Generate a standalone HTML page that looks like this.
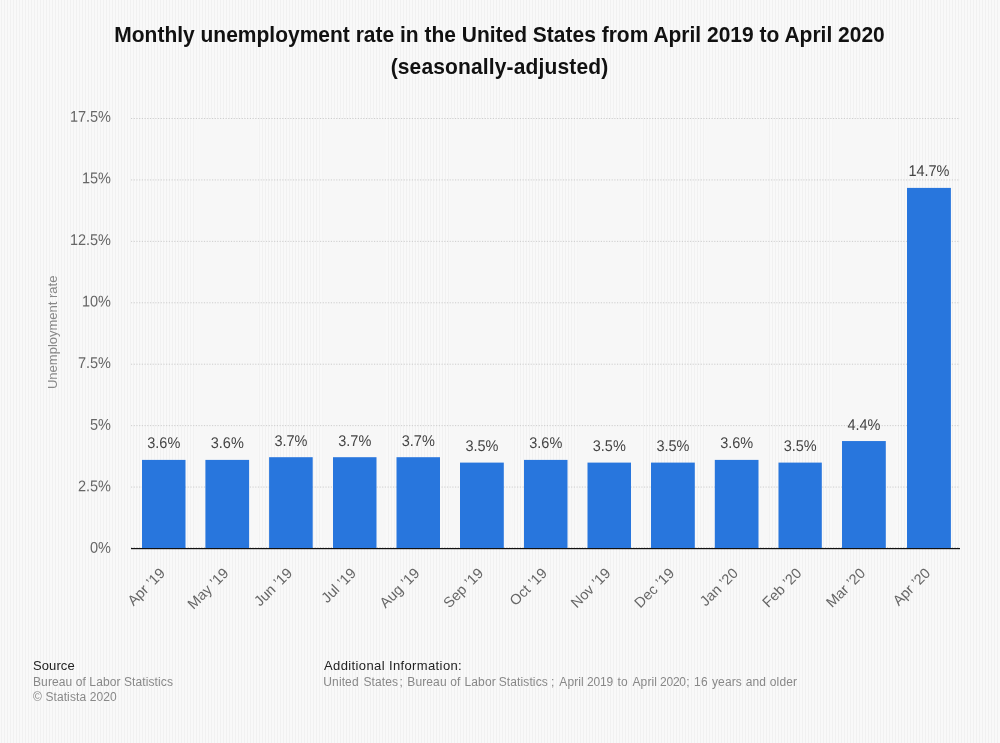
<!DOCTYPE html>
<html><head><meta charset="utf-8">
<style>
html,body{margin:0;padding:0;}
body{width:1000px;height:743px;overflow:hidden;position:relative;
background:#f6f6f6;
background-image:repeating-linear-gradient(90deg,#f9f9f9 0px,#f9f9f9 1px,#f1f1f1 1px,#f1f1f1 2px,#f9f9f9 2px,#f9f9f9 3px);
font-family:"Liberation Sans",sans-serif;}
.title{will-change:transform;position:absolute;left:0;top:18.5px;width:1000px;text-align:center;font-weight:bold;font-size:21px;line-height:32px;color:#111;}
svg{position:absolute;left:0;top:0;will-change:transform;}
.gl{stroke:#cdcdcd;stroke-width:1;stroke-dasharray:1.2,1.5;}
.tt{font-size:21px;font-weight:bold;fill:#111;}
.yl{font-size:14.5px;fill:#666;}
.dl{font-size:14.5px;fill:#444;}
.xl{font-size:14.5px;fill:#666;}
.yt{font-size:13px;fill:#888;}
.fh{font-size:13px;fill:#222;}
.ft{font-size:12px;fill:#888;}
.src{position:absolute;left:33px;top:657px;font-size:12px;line-height:15px;color:#888;letter-spacing:0.1px;}
.src b{font-weight:normal;color:#222;font-size:13px;letter-spacing:0.1px;}
.add{position:absolute;left:324px;top:657px;font-size:12px;line-height:15px;color:#888;letter-spacing:0.23px;}
.add b{font-weight:normal;color:#222;font-size:13px;letter-spacing:0.38px;}
</style></head><body>
<svg width="1000" height="743" font-family="Liberation Sans, sans-serif">
<text transform="translate(499.5,41.8) scale(1,1.07)" text-anchor="middle" class="tt">Monthly unemployment rate in the United States from April 2019 to April 2020</text>
<text transform="translate(499.5,74) scale(1,1.07)" text-anchor="middle" class="tt" style="letter-spacing:0.15px">(seasonally-adjusted)</text>
<text transform="translate(57.3,332.3) rotate(-90)" text-anchor="middle" class="yt">Unemployment rate</text>
<rect x="194.77" y="119" width="63.77" height="429" fill="#f7f7f7"/>
<rect x="322.31" y="119" width="63.77" height="429" fill="#f7f7f7"/>
<rect x="449.85" y="119" width="63.77" height="429" fill="#f7f7f7"/>
<rect x="577.38" y="119" width="63.77" height="429" fill="#f7f7f7"/>
<rect x="704.92" y="119" width="63.77" height="429" fill="#f7f7f7"/>
<rect x="832.46" y="119" width="63.77" height="429" fill="#f7f7f7"/>
<line x1="131.0" y1="487.07" x2="960.0" y2="487.07" class="gl"/>
<line x1="131.0" y1="425.64" x2="960.0" y2="425.64" class="gl"/>
<line x1="131.0" y1="364.21" x2="960.0" y2="364.21" class="gl"/>
<line x1="131.0" y1="302.79" x2="960.0" y2="302.79" class="gl"/>
<line x1="131.0" y1="241.36" x2="960.0" y2="241.36" class="gl"/>
<line x1="131.0" y1="179.93" x2="960.0" y2="179.93" class="gl"/>
<line x1="131.0" y1="118.50" x2="960.0" y2="118.50" class="gl"/>
<line x1="131.0" y1="547.5" x2="960.0" y2="547.5" class="gl"/>
<text transform="translate(111,552.79) scale(1,1.07) rotate(0.05)" text-anchor="end" class="yl">0%</text>
<text transform="translate(111,491.22) scale(1,1.07) rotate(0.05)" text-anchor="end" class="yl">2.5%</text>
<text transform="translate(111,429.65) scale(1,1.07) rotate(0.05)" text-anchor="end" class="yl">5%</text>
<text transform="translate(111,368.08) scale(1,1.07) rotate(0.05)" text-anchor="end" class="yl">7.5%</text>
<text transform="translate(111,306.51) scale(1,1.07) rotate(0.05)" text-anchor="end" class="yl">10%</text>
<text transform="translate(111,244.94) scale(1,1.07) rotate(0.05)" text-anchor="end" class="yl">12.5%</text>
<text transform="translate(111,183.37) scale(1,1.07) rotate(0.05)" text-anchor="end" class="yl">15%</text>
<text transform="translate(111,121.80) scale(1,1.07) rotate(0.05)" text-anchor="end" class="yl">17.5%</text>
<rect x="142.00" y="459.90" width="43.50" height="88.10" fill="#2876dd"/>
<text transform="translate(163.75,448.10) scale(1,1.07) rotate(0.05)" text-anchor="middle" class="dl">3.6%</text>
<text transform="translate(165.9,574.0) rotate(-45)" text-anchor="end" class="xl">Apr &#8217;19</text>
<rect x="205.40" y="459.90" width="43.70" height="88.10" fill="#2876dd"/>
<text transform="translate(227.25,448.10) scale(1,1.07) rotate(0.05)" text-anchor="middle" class="dl">3.6%</text>
<text transform="translate(229.4,574.0) rotate(-45)" text-anchor="end" class="xl">May &#8217;19</text>
<rect x="269.10" y="457.20" width="43.60" height="90.80" fill="#2876dd"/>
<text transform="translate(290.90,446.10) scale(1,1.07) rotate(0.05)" text-anchor="middle" class="dl">3.7%</text>
<text transform="translate(293.1,574.0) rotate(-45)" text-anchor="end" class="xl">Jun &#8217;19</text>
<rect x="333.00" y="457.20" width="43.50" height="90.80" fill="#2876dd"/>
<text transform="translate(354.75,446.10) scale(1,1.07) rotate(0.05)" text-anchor="middle" class="dl">3.7%</text>
<text transform="translate(356.9,574.0) rotate(-45)" text-anchor="end" class="xl">Jul &#8217;19</text>
<rect x="396.50" y="457.20" width="43.50" height="90.80" fill="#2876dd"/>
<text transform="translate(418.25,446.10) scale(1,1.07) rotate(0.05)" text-anchor="middle" class="dl">3.7%</text>
<text transform="translate(420.4,574.0) rotate(-45)" text-anchor="end" class="xl">Aug &#8217;19</text>
<rect x="460.00" y="462.60" width="43.80" height="85.40" fill="#2876dd"/>
<text transform="translate(481.90,450.90) scale(1,1.07) rotate(0.05)" text-anchor="middle" class="dl">3.5%</text>
<text transform="translate(484.1,574.0) rotate(-45)" text-anchor="end" class="xl">Sep &#8217;19</text>
<rect x="524.00" y="459.90" width="43.50" height="88.10" fill="#2876dd"/>
<text transform="translate(545.75,448.10) scale(1,1.07) rotate(0.05)" text-anchor="middle" class="dl">3.6%</text>
<text transform="translate(548.0,574.0) rotate(-45)" text-anchor="end" class="xl">Oct &#8217;19</text>
<rect x="587.50" y="462.60" width="43.50" height="85.40" fill="#2876dd"/>
<text transform="translate(609.25,450.90) scale(1,1.07) rotate(0.05)" text-anchor="middle" class="dl">3.5%</text>
<text transform="translate(611.5,574.0) rotate(-45)" text-anchor="end" class="xl">Nov &#8217;19</text>
<rect x="651.00" y="462.60" width="43.80" height="85.40" fill="#2876dd"/>
<text transform="translate(672.90,450.90) scale(1,1.07) rotate(0.05)" text-anchor="middle" class="dl">3.5%</text>
<text transform="translate(675.1,574.0) rotate(-45)" text-anchor="end" class="xl">Dec &#8217;19</text>
<rect x="714.80" y="459.90" width="43.70" height="88.10" fill="#2876dd"/>
<text transform="translate(736.65,448.10) scale(1,1.07) rotate(0.05)" text-anchor="middle" class="dl">3.6%</text>
<text transform="translate(738.9,574.0) rotate(-45)" text-anchor="end" class="xl">Jan &#8217;20</text>
<rect x="778.50" y="462.60" width="43.30" height="85.40" fill="#2876dd"/>
<text transform="translate(800.15,450.90) scale(1,1.07) rotate(0.05)" text-anchor="middle" class="dl">3.5%</text>
<text transform="translate(802.4,574.0) rotate(-45)" text-anchor="end" class="xl">Feb &#8217;20</text>
<rect x="842.00" y="441.05" width="43.80" height="106.95" fill="#2876dd"/>
<text transform="translate(863.90,429.95) scale(1,1.07) rotate(0.05)" text-anchor="middle" class="dl">4.4%</text>
<text transform="translate(866.1,574.0) rotate(-45)" text-anchor="end" class="xl">Mar &#8217;20</text>
<rect x="907.00" y="187.90" width="43.90" height="360.10" fill="#2876dd"/>
<text transform="translate(928.95,175.90) scale(1,1.07) rotate(0.05)" text-anchor="middle" class="dl">14.7%</text>
<text transform="translate(931.2,574.0) rotate(-45)" text-anchor="end" class="xl">Apr &#8217;20</text>
<rect x="131.0" y="548" width="829.0" height="1.2" fill="#111"/>
</svg>
<svg width="1000" height="743" font-family="Liberation Sans, sans-serif">
<text x="33" y="669.9" class="fh" style="letter-spacing:0.1px">Source</text>
<text x="33" y="685.9" class="ft" style="letter-spacing:0.1px">Bureau of Labor Statistics</text>
<text x="33" y="700.7" class="ft" style="letter-spacing:0.1px">&#169; Statista 2020</text>
<text x="324" y="669.7" class="fh" style="letter-spacing:0.38px">Additional Information:</text>
<text y="685.9" class="ft" style="letter-spacing:0.12px"><tspan x="323.3">United</tspan><tspan x="363.4">States</tspan><tspan x="399.4">;</tspan><tspan x="407.3">Bureau</tspan><tspan x="450.3">of</tspan><tspan x="464.5">Labor</tspan><tspan x="498.7">Statistics</tspan><tspan x="550.9">;</tspan><tspan x="559.3">April</tspan><tspan x="586.9" style="letter-spacing:-0.1px">2019</tspan><tspan x="617.5">to</tspan><tspan x="632.5">April</tspan><tspan x="660.1" style="letter-spacing:-0.25px">2020</tspan><tspan x="686.3">;</tspan><tspan x="694.1">16</tspan><tspan x="712.0">years</tspan><tspan x="745.7">and</tspan><tspan x="769.8">older</tspan></text>
</svg>
</body></html>
